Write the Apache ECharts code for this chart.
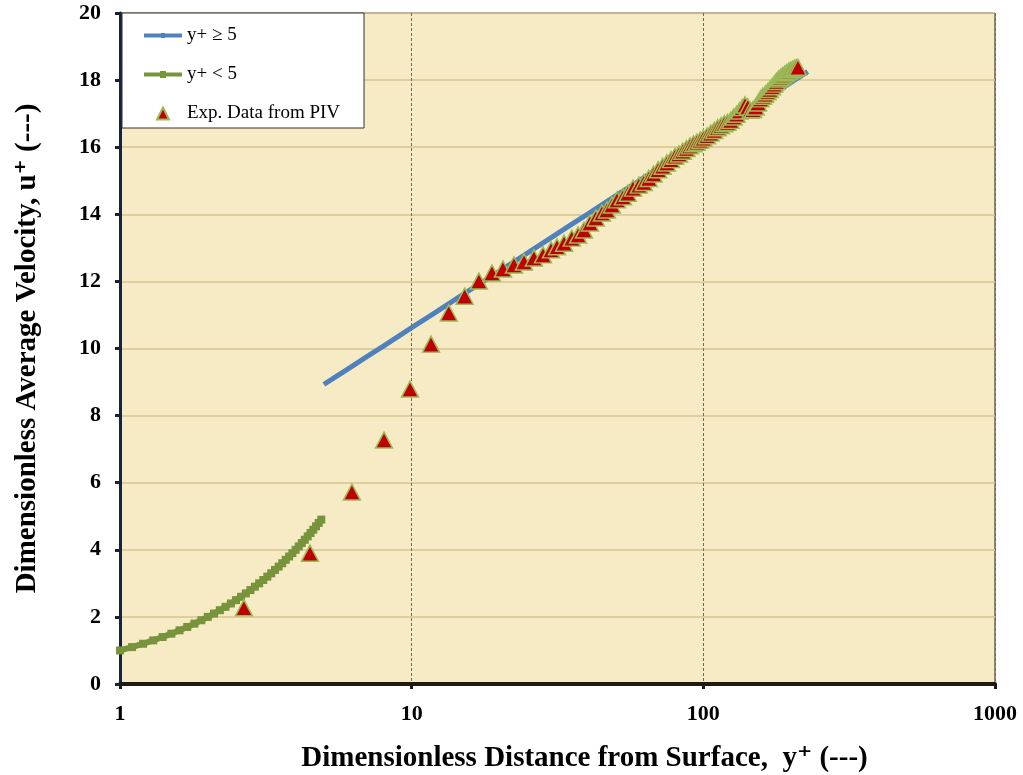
<!DOCTYPE html>
<html>
<head>
<meta charset="utf-8">
<script src="https://cdn.jsdelivr.net/npm/echarts@6/dist/echarts.min.js"></script>
<style>html,body{margin:0;padding:0;background:#fff;}#c{width:1023px;height:775px;}</style>
</head>
<body>
<div id="c"></div>
<script>
// y+ >= 5 : log-law curve (y+, u+)
const logLaw = [[5,8.93],[6,9.37],[7,9.75],[8,10.07],[9,10.36],[10,10.62],[12,11.06],[14,11.44],[16,11.77],[18,12.05],[20,12.31],[25,12.85],[30,13.30],[35,13.68],[40,14.00],[50,14.55],[60,14.99],[70,15.37],[80,15.69],[90,15.98],[100,16.24],[120,16.68],[140,17.06],[160,17.38],[180,17.67],[200,17.93],[228,18.25]];
// y+ < 5 : viscous sublayer (y+, u+)
const sublayer = [[1.0,1.0],[1.1,1.1],[1.2,1.2],[1.3,1.3],[1.4,1.4],[1.5,1.5],[1.6,1.6],[1.7,1.7],[1.8,1.8],[1.9,1.9],[2.0,2.0],[2.1,2.1],[2.2,2.2],[2.3,2.3],[2.4,2.4],[2.5,2.5],[2.6,2.6],[2.7,2.7],[2.8,2.8],[2.9,2.9],[3.0,3.0],[3.1,3.1],[3.2,3.2],[3.3,3.3],[3.4,3.4],[3.5,3.5],[3.6,3.6],[3.7,3.7],[3.8,3.8],[3.9,3.9],[4.0,4.0],[4.1,4.1],[4.2,4.2],[4.3,4.3],[4.4,4.4],[4.5,4.5],[4.6,4.6],[4.7,4.7],[4.8,4.8],[4.9,4.9]];
// PIV experimental data (y+, u+)
const pivData = [[2.66,2.27],[4.48,3.9],[6.24,5.72],[8.04,7.27],[9.87,8.79],[11.65,10.13],[13.4,11.06],[15.2,11.56],[17.0,12.01],[18.85,12.25],[20.56,12.37],[22.42,12.49],[24.27,12.58],[26.25,12.70],[28.2,12.79],[30.04,12.94],[31.5,13.03],[33.3,13.14],[35.4,13.29],[37.2,13.38],[38.97,13.53],[40.86,13.74],[42.8,13.89],[44.9,14.04],[46.7,14.13],[48.6,14.28],[50.6,14.43],[53.0,14.52],[55.1,14.63],[57.4,14.78],[60.1,14.87],
[62.5,14.95],[65,15.07],[67.5,15.2],[70,15.33],[72.5,15.43],[75,15.53],[77.5,15.63],[80,15.73],[82.5,15.8],[85,15.88],[87.5,15.96],[90,16.04],[92.5,16.1],[95,16.15],[97.5,16.21],[100,16.27],[103,16.34],[106,16.42],[109,16.5],[112,16.58],[115,16.64],[118,16.7],[121,16.74],[124,16.8],[127,16.9],[130,16.98],[133,17.08],[136,17.18],[139,17.26],[142,17.2],[145,17.1],[148,17.12],[151,17.2],[154,17.32],[157,17.44],[160,17.52],[163,17.58],[166,17.65],[169,17.72],[172,17.8],[175,17.88],[178,17.96],[181,18.03],[184,18.08],[187,18.13],[190,18.18],[193,18.22],[196,18.26],[199,18.3],[202,18.32],[205,18.35],[208,18.37],[211,18.38]];
const seriesNames = ['y+ \u2265 5', 'y+ < 5', 'Exp. Data from PIV'];
const xTicks = [1, 10, 100, 1000];
const yMin = 0, yMax = 20, yStep = 2;

const serif = '"Liberation Serif", "DejaVu Serif", serif';
const chart = echarts.init(document.getElementById('c'), null, {renderer: 'canvas'});
chart.setOption({
  backgroundColor: '#ffffff',
  animation: false,
  grid: {left: 120, right: 28, top: 13, bottom: 91, outerBoundsMode: 'none', containLabel: false,
    show: true, backgroundColor: '#f7ebc5', borderColor: '#222', borderWidth: 1},
  legend: {
    data: [
      {name: seriesNames[0], icon: 'path://M0,5H38V9H0ZM17,4.5H21V9.5H17Z'},
      {name: seriesNames[1], icon: 'path://M0,5H38V9H0ZM16,3.5H22V10.5H16Z'},
      {name: seriesNames[2], icon: 'path://M0,14L0.001,14ZM38,14L38.001,14ZM13,14L19,2L25,14Z'}
    ],
    orient: 'vertical',
    left: 122, top: 13,
    padding: [13, 24, 5, 21],
    itemGap: 20,
    itemWidth: 38, itemHeight: 14,
    symbolKeepAspect: true,
    backgroundColor: '#ffffff',
    borderColor: '#333', borderWidth: 1,
    textStyle: {fontFamily: serif, fontSize: 19, color: '#000'}
  },
  xAxis: {
    type: 'log', logBase: 10, min: xTicks[0], max: xTicks[xTicks.length - 1],
    name: 'Dimensionless Distance from Surface,  y\u207A (---)',
    nameLocation: 'middle', nameGap: 60,
    nameTextStyle: {fontFamily: serif, fontSize: 29, fontWeight: 'bold', color: '#000', padding: [0, 0, 0, 54]},
    axisLine: {show: true, onZero: false, lineStyle: {color: '#1e1a14', width: 4}},
    axisTick: {show: true, length: 5, lineStyle: {color: '#1e1a14', width: 3}},
    minorTick: {show: false},
    axisLabel: {fontFamily: serif, fontSize: 22, fontWeight: 'bold', color: '#000', margin: 19,
      formatter: function (v) { return String(Math.round(v)); }},
    splitLine: {show: true, lineStyle: {color: '#7a6a4a', width: 1, type: [3, 2]}}
  },
  yAxis: {
    type: 'value', min: yMin, max: yMax, interval: yStep,
    name: 'Dimensionless Average Velocity, u\u207A (---)',
    nameLocation: 'middle', nameGap: 78, nameRotate: 90,
    nameTextStyle: {fontFamily: serif, fontSize: 29, fontWeight: 'bold', color: '#000'},
    axisLine: {show: true, lineStyle: {color: '#15233f', width: 3}},
    axisTick: {show: true, length: 5, lineStyle: {color: '#15233f', width: 3}},
    axisLabel: {fontFamily: serif, fontSize: 22, fontWeight: 'bold', color: '#000', margin: 19},
    splitLine: {show: true, lineStyle: {color: '#d6c48e', width: 1.5}}
  },
  series: [
    {
      name: seriesNames[0], type: 'line', data: logLaw,
      symbol: 'circle', symbolSize: 4, showSymbol: false,
      itemStyle: {color: '#4f81bd'},
      lineStyle: {color: '#4f81bd', width: 5}, z: 2
    },
    {
      name: seriesNames[1], type: 'line', data: sublayer,
      symbol: 'rect', symbolSize: 8,
      itemStyle: {color: '#77933c'},
      lineStyle: {color: '#77933c', width: 6}, z: 3
    },
    {
      name: seriesNames[2], type: 'scatter', data: pivData,
      symbol: 'triangle', symbolSize: [17, 16],
      itemStyle: {color: '#c00000', opacity: 1, borderColor: '#9bbb59', borderWidth: 1.5}, z: 4
    }
  ]
});
</script>
</body>
</html>
